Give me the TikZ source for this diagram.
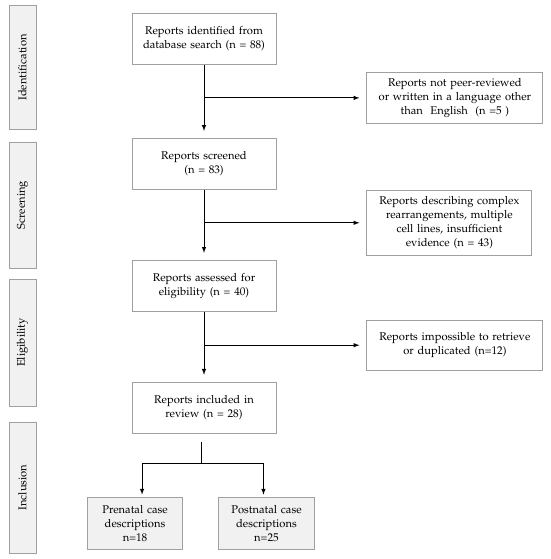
\documentclass[tikz,border=0pt]{standalone}
\usepackage[T1]{fontenc}
\usepackage{mathpazo}
\usepackage{tikz}
\usetikzlibrary{positioning}
\definecolor{edgegray}{HTML}{A0A0A0}
\definecolor{panelgray}{HTML}{F1F1F1}
\tikzset{main box/.style={rectangle, draw=edgegray, line width=0.9pt, fill=white, align=center, minimum height=51pt, inner xsep=3pt, font=\fontsize{11.2}{14}\selectfont},
phase box/.style={rectangle, draw=edgegray, line width=1pt, fill=panelgray, rotate=90, minimum height=27pt, inner sep=0pt, font=\fontsize{11.2}{14}\selectfont},}

\begin{document}
\begin{tikzpicture}[x=1pt, y=-1pt, ->, >=latex, line width=1pt]
        \useasboundingbox (0,0) rectangle (550,559);
        % Nodes
        \node[phase box, minimum width=123pt] (ident) at (22.5,67.5) {Identification};
        \node[phase box, minimum width=126pt] (screen) at (22.5,205) {Screening};
        \node[phase box, minimum width=127pt] (elig) at (22.5,342.5) {Eligibility};
        \node[phase box, minimum width=131pt] (incl) at (22.5,487.5) {Inclusion};
        \node[main box, text width=138pt] (rep) at (204,39) {Reports identified from\\database search (n = 88)};
        \node[main box, text width=138pt] [below = 73pt of rep] (scr) {Reports screened\\(n = 83)};
        \node[main box, text width=138pt] [below = 70pt of scr] (ass) {Reports assessed for\\eligibility (n = 40)};
        \node[main box, text width=138pt] [below = 70pt of ass] (inc) {Reports included in\\review (n = 28)};
        \node[main box, text width=170pt] [below right = 7pt and 90pt of rep] (ex1) {Reports not peer-reviewed\\ or written in a language other\\than~ English~ (n =5 )};
        \node[main box, text width=159pt, minimum height=65pt] [below right = 0pt and 90pt of scr] (ex2) {Reports describing complex\\rearrangements, multiple\\cell lines, insufficient\\evidence (n = 43)};
        \node[main box, text width=170pt, minimum height=50pt] [below right = 8pt and 90pt of ass] (ex3) {Reports impossible to retrieve\\or duplicated (n=12)};
        \coordinate[below = 30pt of inc, xshift=-3pt] (split);
        \node[main box, fill=panelgray, text width=89pt, minimum height=52pt] [below left = 33pt and 18pt of split] (pre) {Prenatal case\\descriptions\\n=18};
        \node[main box, fill=panelgray, text width=90pt, minimum height=52pt] [below right = 33pt and 17pt of split] (post) {Postnatal case\\descriptions\\n=25};
        % Paths
        \path[shorten >=7pt]
        (rep) edge (scr)
        (scr) edge (ass)
        (ass) edge (inc)
        (rep.south |- ex1.west) edge (ex1.west)
        (scr.south |- ex2.west) edge (ex2.west)
        (ass.south |- ex3.west) edge (ex3.west);
        \draw[-, shorten <=8pt] (inc.south -| split) -- (split);
        \draw[shorten >=2pt] (split) -| ([xshift=7pt]pre.north);
        \draw[shorten >=2pt] (split) -| ([xshift=-3pt]post.north);
    \end{tikzpicture}
\end{document}
